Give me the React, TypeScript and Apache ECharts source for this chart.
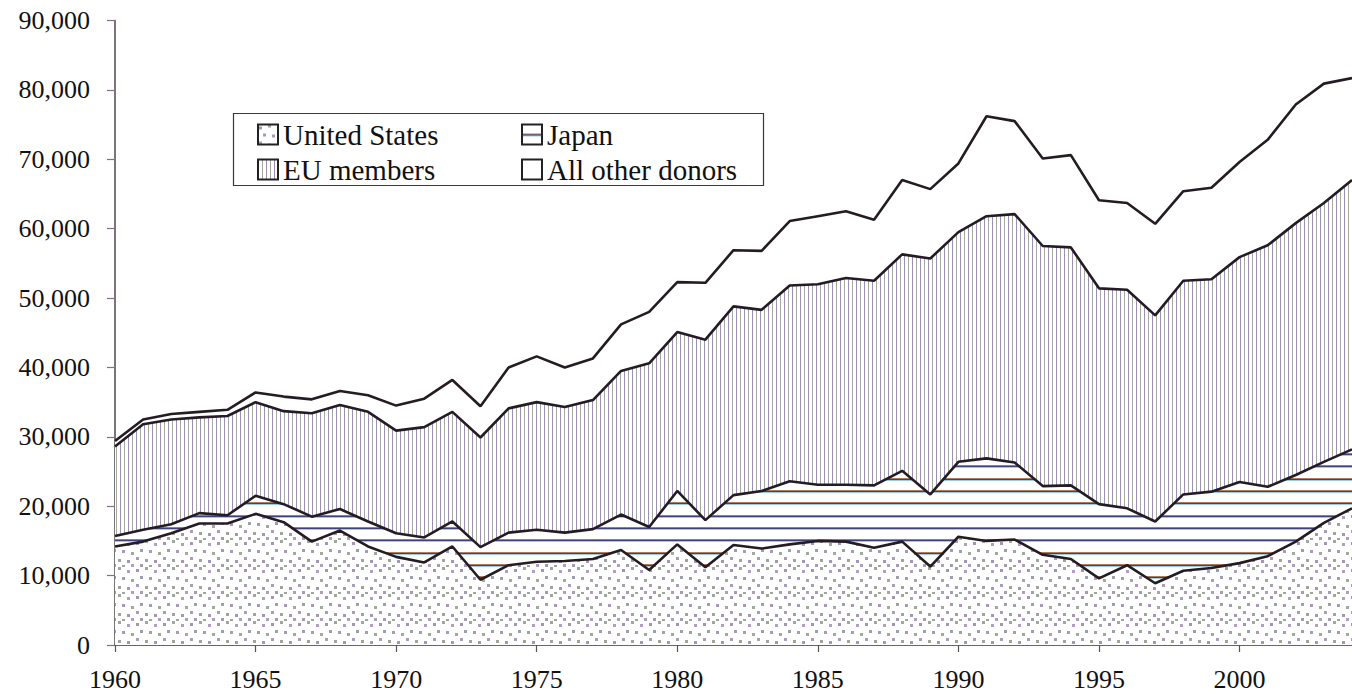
import React, { useEffect, useRef } from "react";
import * as echarts from "echarts";

const years = [
  "1960", "1961", "1962", "1963", "1964", "1965", "1966", "1967", "1968", "1969",
  "1970", "1971", "1972", "1973", "1974", "1975", "1976", "1977", "1978", "1979",
  "1980", "1981", "1982", "1983", "1984", "1985", "1986", "1987", "1988", "1989",
  "1990", "1991", "1992", "1993", "1994", "1995", "1996", "1997", "1998", "1999",
  "2000", "2001", "2002", "2003", "2004",
];

const unitedStates = [
  14200, 14900, 16100, 17500, 17500, 18900, 17700, 14900, 16500, 14200,
  12700, 11900, 14200, 9400, 11500, 12000, 12100, 12400, 13700, 10800,
  14500, 11200, 14400, 13900, 14500, 15000, 14900, 14000, 14900, 11300,
  15600, 15000, 15200, 13000, 12400, 9600, 11500, 8900, 10700, 11100,
  11800, 12800, 14900, 17600, 19700,
];

const japan = [
  1500, 1700, 1300, 1500, 1200, 2600, 2600, 3600, 3100, 3600,
  3400, 3600, 3600, 4700, 4700, 4600, 4100, 4300, 5100, 6200,
  7700, 6800, 7200, 8300, 9100, 8100, 8200, 9000, 10200, 10400,
  10800, 11900, 11100, 9900, 10600, 10700, 8200, 8900, 11000, 11000,
  11700, 10000, 9600, 8800, 8500,
];

const euMembers = [
  12900, 15200, 15100, 13800, 14300, 13500, 13400, 14900, 15000, 15800,
  14800, 15900, 15800, 15800, 17900, 18400, 18100, 18600, 20700, 23600,
  22900, 26000, 27200, 26100, 28200, 28900, 29800, 29500, 31200, 34000,
  33100, 34900, 35800, 34600, 34300, 31100, 31500, 29700, 30800, 30600,
  32400, 34800, 36300, 37300, 38800,
];

const otherDonors = [
  800, 700, 800, 800, 900, 1400, 2100, 2000, 2000, 2400,
  3600, 4100, 4600, 4500, 5900, 6600, 5700, 6000, 6700, 7400,
  7200, 8200, 8100, 8500, 9300, 9800, 9600, 8800, 10700, 10000,
  9900, 14400, 13400, 12600, 13300, 12700, 12500, 13200, 12900, 13200,
  13700, 15200, 17100, 17200, 14700,
];

const seriesNames = ["United States", "Japan", "EU members", "All other donors"];

function makeCanvas(w: number, h: number, draw: (ctx: CanvasRenderingContext2D) => void) {
  const c = document.createElement("canvas");
  c.width = w;
  c.height = h;
  const ctx = c.getContext("2d")!;
  draw(ctx);
  return c;
}

function dotsPattern() {
  const pts: [number, number, string][] = [
    [1, 2, "#a394b8"], [10, 0, "#9ea99c"], [19, 3, "#b09fc2"],
    [5, 9, "#9d9fae"], [14, 10, "#a89ab9"], [23, 12, "#a0aa9e"],
    [1, 17, "#ab9cbc"], [10, 19, "#a2a39c"], [19, 20, "#a596b8"],
  ];
  const c = makeCanvas(27, 27, (ctx) => {
    ctx.fillStyle = "#ffffff";
    ctx.fillRect(0, 0, 27, 27);
    pts.forEach(([x, y, col]) => {
      ctx.fillStyle = col;
      ctx.fillRect(x, y, 3, 3);
    });
    ctx.fillStyle = "#a69bb6";
    ctx.fillRect(5, 24, 3, 3);
    ctx.fillStyle = "#9ea79c";
    ctx.fillRect(14, 25, 3, 2);
    ctx.fillStyle = "#ad9fc0";
    ctx.fillRect(23, 24, 3, 3);
  });
  return { image: c, repeat: "repeat", imageWidth: 27, imageHeight: 27 };
}

function hLinesPattern() {
  const c = makeCanvas(8, 37, (ctx) => {
    ctx.fillStyle = "#ffffff";
    ctx.fillRect(0, 0, 8, 37);
    [10, 22, 35].forEach((r) => {
      ctx.fillStyle = "#b07a58";
      ctx.fillRect(0, r - 1, 8, 1);
      ctx.fillStyle = "#3f4278";
      ctx.fillRect(0, r, 8, 1);
      ctx.fillStyle = "#9ccbe6";
      ctx.fillRect(0, r + 1, 8, 1);
    });
  });
  return { image: c, repeat: "repeat", imageWidth: 8, imageHeight: 37 };
}

function vLinesPattern() {
  const c = makeCanvas(8, 8, (ctx) => {
    ctx.fillStyle = "#ffffff";
    ctx.fillRect(0, 0, 8, 8);
    ctx.fillStyle = "#9c90bb";
    ctx.fillRect(0, 0, 1, 8);
    ctx.fillStyle = "#a0a99c";
    ctx.fillRect(4, 0, 1, 8);
  });
  return { image: c, repeat: "repeat", imageWidth: 8, imageHeight: 8 };
}

function fmt(v: number) {
  return String(v).replace(/\B(?=(\d{3})+(?!\d))/g, ",");
}

export default function App() {
  const ref = useRef<HTMLDivElement>(null);

  useEffect(() => {
    if (!ref.current) return;
    const chart = echarts.init(ref.current, null, { renderer: "svg" });
    const dots = dotsPattern();
    const hlines = hLinesPattern();
    const vlines = vLinesPattern();
    const fills: any[] = [dots, hlines, vlines, "#ffffff"];
    const values = [unitedStates, japan, euMembers, otherDonors];
    const lineColor = "#241c22";

    const option: any = {
      animation: false,
      textStyle: { fontFamily: "Liberation Serif" },
      grid: { left: 115, right: -10, top: 20.5, bottom: 49 },
      legend: {
        left: 257,
        top: 120,
        width: 525,
        padding: 0,
        itemGap: 6,
        itemWidth: 20,
        itemHeight: 20,
        icon: "rect",
        selectedMode: false,
        textStyle: {
          fontFamily: "Liberation Serif",
          fontSize: 29,
          color: "#111",
          lineHeight: 28,
          width: 232,
        },
        data: seriesNames.map((n, i) => ({
          name: n,
          icon: "rect",
          itemStyle: { color: fills[i], borderColor: "#222", borderWidth: 2 },
        })),
      },
      graphic: [
        {
          type: "rect",
          shape: { x: 233.5, y: 113.5, width: 530, height: 72 },
          style: { fill: "none", stroke: "#3c3640", lineWidth: 1.2 },
          z: 0,
        },
      ],
      xAxis: {
        type: "category",
        data: years,
        boundaryGap: false,
        axisLine: { show: true, lineStyle: { color: "#3a3040", width: 1.6 } },
        axisTick: {
          show: true,
          interval: 4,
          length: 7,
          lineStyle: { color: "#555", width: 1.2 },
        },
        axisLabel: {
          interval: 4,
          margin: 21,
          fontSize: 26,
          color: "#111",
          fontFamily: "Liberation Serif",
        },
        splitLine: { show: false },
      },
      yAxis: {
        type: "value",
        min: 0,
        max: 90000,
        interval: 10000,
        axisLine: { show: true, lineStyle: { color: "#4a4a4a", width: 1.5 } },
        axisTick: { show: true, length: 8, lineStyle: { color: "#8a6a8a", width: 1.2 } },
        axisLabel: {
          margin: 25,
          fontSize: 26,
          color: "#111",
          fontFamily: "Liberation Serif",
          formatter: (v: number) => fmt(v),
        },
        splitLine: { show: false },
      },
      series: seriesNames.map((n, i) => ({
        name: n,
        type: "line",
        stack: "total",
        data: values[i],
        showSymbol: false,
        symbol: "none",
        itemStyle: { color: lineColor },
        lineStyle: { color: lineColor, width: 2.6 },
        areaStyle: { color: fills[i], opacity: 1 },
        z: 2,
      })),
    };
    chart.setOption(option);
    return () => chart.dispose();
  }, []);

  return (
    <div
      ref={ref}
      style={{ position: "absolute", left: 0, top: 0, width: 1352, height: 694, background: "#fff" }}
    />
  );
}
